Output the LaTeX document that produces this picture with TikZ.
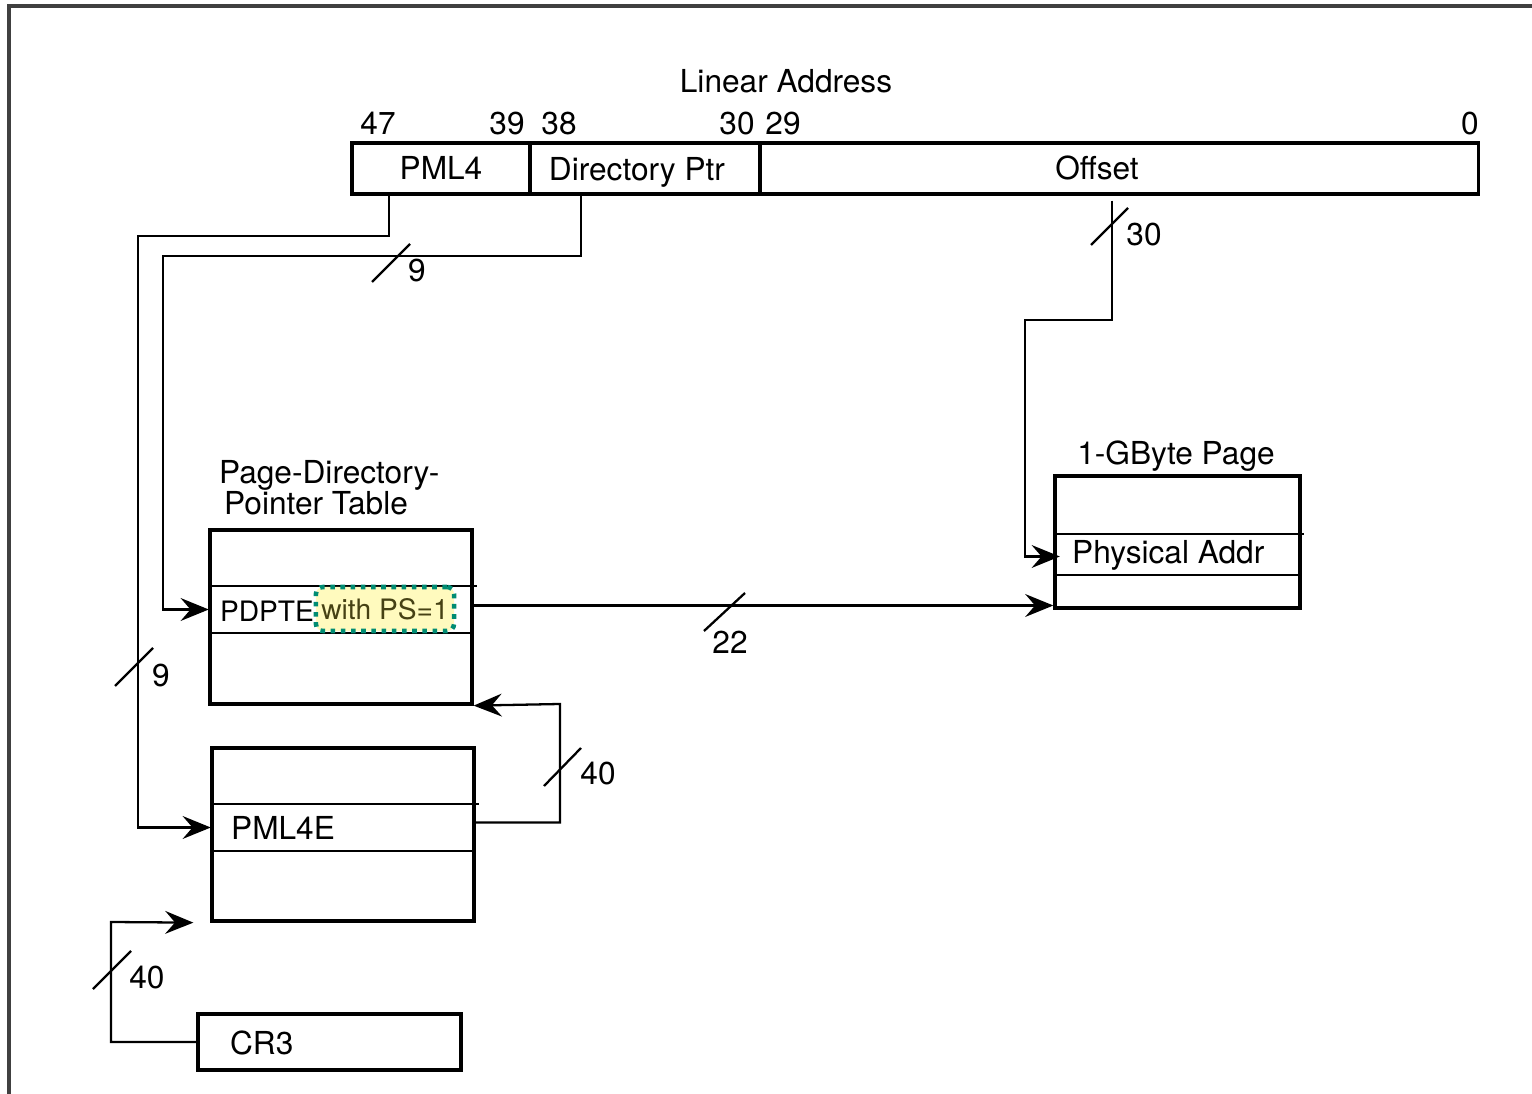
\documentclass[tikz,border=0pt]{standalone}
\usepackage{fontspec}
\setmainfont{TeX Gyre Heros}
\usetikzlibrary{arrows.meta,calc}
\definecolor{psfill}{RGB}{255,250,190}
\definecolor{psedge}{RGB}{0,140,115}
\definecolor{pstext}{RGB}{70,65,20}

\begin{document}
\begin{tikzpicture}[x=0.01cm,y=-0.01cm,line width=0.65pt,
  font=\fontsize{9}{9}\selectfont,
  fld/.style={draw,line width=0.9pt,minimum height=0.51cm,inner sep=0pt,
    text height=6.5pt,text depth=0pt},
  tbl/.style={draw,line width=0.9pt,inner sep=0pt},
  row/.style={inner sep=0pt,minimum height=0.45cm},
  lbl/.style={inner sep=0pt,text height=6.5pt,text depth=0pt},
  arr/.style={-{Stealth[length=8pt,width=6.5pt,inset=2.8pt]}}]
\useasboundingbox (0,0) rectangle (1532,1094);
% Frame
\draw[line width=1pt,black!75] (9,6) rectangle (1600,1150);

% Linear address fields
\node[lbl] (linaddr) at (786,81) {Linear Address};
\node[fld,minimum width=1.78cm] (pml4f) at (441,168.5) {PML4};
\node[fld,minimum width=2.30cm] (dirf) at (645,168.5) {};
\node[lbl] (dirtxt) at (637,169) {Directory Ptr};
\node[fld,minimum width=7.18cm] (offf) at (1119,168.5) {};
\node[lbl] (offtxt) at (1097,168) {Offset};
% Bit numbers
\foreach \x/\b in {378/47,507/39,559/38,737/30,783/29,1470/0}
  \node[lbl] (bit\b) at (\x,123) {\b};

% Page-directory-pointer table
\node[inner sep=0pt,anchor=north west,align=left] (pdpttitle) at (218,459)
  {Page-Directory-\\\hspace*{0.05cm}Pointer Table};
\node[tbl,minimum width=2.62cm,minimum height=1.74cm] (pdpt) at (341,617) {};
\node[row,minimum width=2.62cm] (pdpte) at (341,609.5) {};
\draw (pdpte.north west) -- ([xshift=0.04cm]pdpte.north east);
\draw (pdpte.south west) -- (pdpte.south east);
\node[lbl,anchor=west,font=\fontsize{8}{8}\selectfont] (pdptetxt) at (219,610) {PDPTE};
\node[fill=psfill,draw=psedge,line width=1.3pt,dash pattern=on 1.3pt off 1.6pt,
  rounded corners=2pt,minimum width=1.38cm,minimum height=0.44cm,inner sep=0pt,
  text=pstext,font=\fontsize{8}{8}\selectfont] (ps1) at (385,609) {with PS=1};

% 1-GByte page
\node[lbl] (gtitle) at (1176,453) {1-GByte Page};
\node[tbl,minimum width=2.45cm,minimum height=1.32cm] (gpage) at (1177.5,542) {};
\node[row,minimum width=2.45cm,minimum height=0.39cm] (physrow) at (1177.5,554.5) {};
\draw (physrow.north west) -- ([xshift=0.03cm]physrow.north east);
\draw (physrow.south west) -- (physrow.south east);
\node[lbl,anchor=west] (phystxt) at (1071,552) {Physical Addr};

% PML4 table
\node[tbl,minimum width=2.62cm,minimum height=1.73cm] (pml4) at (343,834.5) {};
\node[row,minimum width=2.62cm] (pml4e) at (343,827.5) {};
\draw (pml4e.north west) -- ([xshift=0.04cm]pml4e.north east);
\draw (pml4e.south west) -- (pml4e.south east);
\node[lbl,anchor=west] (pml4etxt) at (230,828) {PML4E};

% CR3
\node[tbl,minimum width=2.63cm,minimum height=0.56cm] (cr3) at (329.5,1042) {};
\node[lbl,anchor=west] (cr3txt) at (229,1043) {CR3};

% Connectors
\draw[arr] ([xshift=-0.52cm]pml4f.south) |- (138,236) |- (pml4e.west);
\draw[arr] ([xshift=-0.64cm]dirf.south) |- (163,256) |- (pdpte.west);
\draw[arr] ([xshift=-0.07cm,yshift=-0.05cm]offf.south) |- (1025,320)
  |- ([xshift=0.06cm,yshift=-0.02cm]physrow.west);
\draw[arr] ([yshift=0.04cm]pdpte.east) -- ([yshift=0.04cm]pdpte.east -| gpage.west);
\draw[arr] ([yshift=0.05cm]pml4e.east) -| (560,704) -- (pdpt.south east);
\draw[arr] (cr3.west) -| (111,922) -- ([xshift=-0.17cm]pml4.south west);

% Bus widths
\draw (372,282) -- (410,244); \node[lbl] (w9a) at (417,270) {9};
\draw (115,686) -- (153,648); \node[lbl] (w9b) at (161,675) {9};
\draw (1091,245) -- (1128,208); \node[lbl] (w30) at (1144,234) {30};
\draw (704,631) -- (745,593); \node[lbl] (w22) at (730,642) {22};
\draw (544,786) -- (581,748); \node[lbl] (w40a) at (598,773) {40};
\draw (93,989) -- (131,951); \node[lbl] (w40b) at (147,977) {40};
\end{tikzpicture}
\end{document}
